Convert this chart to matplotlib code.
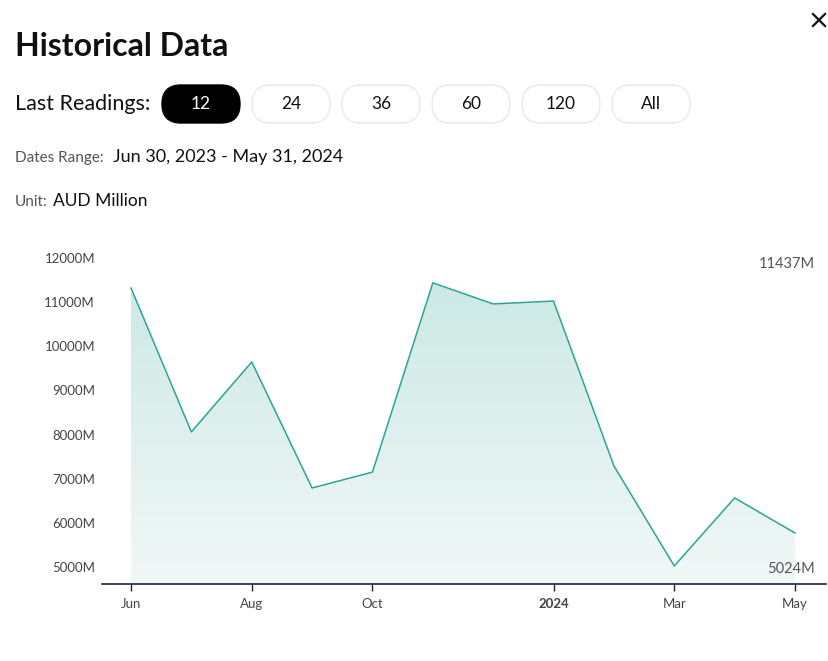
import numpy as np
import matplotlib.pyplot as plt
from matplotlib.patches import FancyBboxPatch
from matplotlib.colors import LinearSegmentedColormap

plt.rcParams['font.family'] = ['Lato', 'DejaVu Sans']

# data (AUD Million)
months = ['Jun', 'Jul', 'Aug', 'Sep', 'Oct', 'Nov', 'Dec', 'Jan', 'Feb', 'Mar', 'Apr', 'May']
values = [11320, 8060, 9645, 6790, 7150, 11437, 10960, 11025, 7290, 5024, 6565, 5770]
tick_idx = [0, 2, 4, 7, 9, 11]
tick_labels = ['Jun', 'Aug', 'Oct', '2024', 'Mar', 'May']
y_ticks = [5000, 6000, 7000, 8000, 9000, 10000, 11000, 12000]
buttons = ['12', '24', '36', '60', '120', 'All']

W, H = 829, 661
fig = plt.figure(figsize=(W / 100, H / 100), dpi=100)

# overlay in pixel units for the page furniture
ov = fig.add_axes([0, 0, 1, 1])
ov.set_xlim(0, W)
ov.set_ylim(H, 0)
ov.axis('off')

ov.text(15, 47, 'Historical Data', fontsize=23, fontweight='bold', va='center', color='#111111')
ov.text(15, 104, 'Last Readings:', fontsize=15.5, va='center', color='#111111')

centers = [201, 291, 381, 471, 561, 651]
for lab, cx in zip(buttons, centers):
    active = lab == '12'
    box = FancyBboxPatch((cx - 39, 85), 78, 38,
                         boxstyle='round,pad=0,rounding_size=19',
                         facecolor='black' if active else 'white',
                         edgecolor='black' if active else '#e8e8e8', lw=1)
    ov.add_patch(box)
    ov.text(cx, 104, lab, fontsize=12.5, ha='center', va='center',
            color='white' if active else '#111111')

ov.text(15, 158, 'Dates Range:', fontsize=11, va='center', color='#555555')
ov.text(113, 157, 'Jun 30, 2023 - May 31, 2024', fontsize=13, va='center', color='#111111')
ov.text(15, 202, 'Unit:', fontsize=11, va='center', color='#555555')
ov.text(53, 201, 'AUD Million', fontsize=12.5, va='center', color='#111111')

# close icon
ov.plot([813, 825], [14, 26], color='#111111', lw=1.6)
ov.plot([813, 825], [26, 14], color='#111111', lw=1.6)

# chart area
ax_top, ax_bot, ax_l, ax_r = 250, 584, 102, 826
ax = fig.add_axes([ax_l / W, 1 - ax_bot / H, (ax_r - ax_l) / W, (ax_bot - ax_top) / H])
ax.set_facecolor('none')
x = np.arange(len(values))
step = (567 - 258) / 7
ymin = 12000 - (584 - 258) / step * 1000
ymax = 12000 + (258 - 250) / step * 1000
ax.set_xlim(-(131 - 102) / 60.36, 11 + (826 - 795) / 60.36)
ax.set_ylim(ymin, ymax)

line_c = '#2aa597'
coll = ax.fill_between(x, values, ymin, color='none', lw=0)
cmap = LinearSegmentedColormap.from_list('g', ['#f1f8f7', '#cde9e5'])
grad = np.linspace(0, 1, 256).reshape(-1, 1)
im = ax.imshow(grad, cmap=cmap, aspect='auto', origin='lower',
               extent=[x[0], x[-1], ymin, max(values)], zorder=1)
im.set_clip_path(coll.get_paths()[0], ax.transData)
ax.plot(x, values, color=line_c, lw=1.1, zorder=3)

ax.set_yticks(y_ticks)
ax.set_yticklabels([f'{v}M' for v in y_ticks])
ax.set_xticks(tick_idx)
ax.set_xticklabels(tick_labels)
for t in ax.get_xticklabels():
    if t.get_text() == '2024':
        t.set_fontweight('bold')
        t.set_color('#222222')
ax.tick_params(axis='y', length=0, pad=5, labelsize=9.5, labelcolor='#444444')
ax.tick_params(axis='x', length=5, width=1, color='#1e2440', pad=5, labelsize=9.5, labelcolor='#444444')
for s in ['top', 'right', 'left']:
    ax.spines[s].set_visible(False)
ax.spines['bottom'].set_color('#1e2440')
ax.spines['bottom'].set_linewidth(1.2)

# max / min labels at the right
fig.text(815 / W, 1 - 264 / H, f'{max(values)}M', fontsize=10.5, ha='right', va='center',
         color='#555555', zorder=5)
fig.text(815 / W, 1 - 569 / H, f'{min(values)}M', fontsize=10.5, ha='right', va='center',
         color='#555555', zorder=5)

fig.savefig('out.png', dpi=100)
